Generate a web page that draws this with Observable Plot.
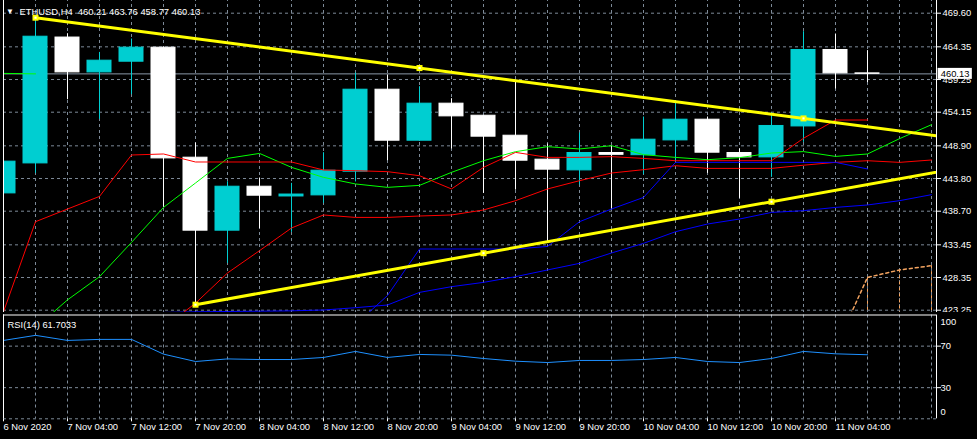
<!DOCTYPE html>
<html><head><meta charset="utf-8">
<script src="https://cdn.jsdelivr.net/npm/d3@7"></script>
<script src="https://cdn.jsdelivr.net/npm/@observablehq/plot@0.6"></script>
<style>
html,body{margin:0;padding:0;background:#000;}
#wrap{position:relative;width:977px;height:439px;background:#000;overflow:hidden;}
#main{position:absolute;left:0;top:-2px;}
#rsi{position:absolute;left:0;top:312px;}
svg{display:block;}
</style></head>
<body><div id="wrap"><div id="main"></div><div id="rsi"></div></div>
<script>
// ---- data (bar index 0 = 6 Nov 2020 20:00, H4 bars) ----
const symbolTitle = "ETHUSD,H4  460.21 463.76 458.77 460.13";
const rsiTitle = "RSI(14) 61.7033";
const candleOpen  = [441.48,446.16,465.80,460.36,462.03,464.22,447.05,435.66,442.52,441.00,441.17,444.87,457.66,449.70,455.48,453.60,450.48,446.74,445.07,447.78,447.44,449.75,452.98,447.78,447.10,451.93,463.86,460.21];
const candleHigh  = [449.70,468.90,466.40,463.48,465.57,464.30,449.34,443.30,443.88,443.04,447.83,460.27,459.96,458.13,456.26,453.60,458.91,449.19,450.90,448.88,453.40,455.95,453.40,448.41,454.03,466.71,466.35,463.76];
const candleLow   = [437.42,444.60,456.10,453.03,456.88,439.30,424.11,430.55,435.97,435.40,439.92,443.26,446.58,449.60,448.41,441.48,442.00,433.83,442.79,439.04,444.40,446.43,444.60,440.70,443.98,449.44,457.77,458.77];
const candleClose = [446.43,465.93,460.36,462.19,464.22,446.94,435.66,442.52,441.12,441.30,445.02,457.66,449.70,455.48,453.50,450.33,446.58,445.18,447.78,447.50,449.86,452.98,447.83,447.10,452.00,463.86,460.21,460.13];
// Ichimoku
const tenkan = [423.0,437.06,439.04,441.01,447.47,447.63,446.38,446.38,446.38,446.38,445.13,445.02,444.87,444.24,442.17,445.54,447.88,447.10,447.10,447.21,446.94,446.58,446.58,446.58,446.58,450.08,452.93,452.93];
const kijun = [null,null,null,null,null,null,null,null,null,null,null,421.0,425.54,432.8,432.8,432.8,432.8,433.2,437.06,439.04,440.85,446.32,446.32,446.32,446.32,446.32,446.32,445.29];
const chikou = [460.21,460.13];
const spanABars = [26,27,28,29];
const spanA = [417.4,428.37,429.53,430.2];
const spanB = [415.0,415.0,415.0,415.0];
// Alligator (bars 0..29, shifted forward)
const jaw = [null,null,null,null,422.5,422.9,423.0,423.05,423.1,423.15,423.28,423.64,424.06,426.03,426.92,427.59,428.48,429.53,430.56,432.18,433.68,435.5,436.7,437.48,438.51,438.78,439.29,439.67,440.34,441.28];
const teeth = [null,null,null,null,null,420.5,424.34,429.06,432.54,436.08,438.11,437.73,437.73,437.95,438.11,438.89,440.34,442.17,443.46,444.66,445.18,445.8,445.38,445.38,445.38,445.88,446.32,446.58,446.32,446.69];
const lips = [null,420.5,424.86,428.48,433.83,439.29,443.1,446.94,447.72,445.54,443.98,442.95,442.42,442.73,444.76,446.58,447.99,448.77,448.41,448.92,447.52,447.1,446.74,447.05,447.78,448.0,447.25,447.63,450.02,452.2];
// trend lines (anchor bar, price)
const upperTrendBars = [1,25];
const upperTrendPrices = [468.90,453.18];
const lowerTrendBars = [6,24];
const lowerTrendPrices = [424.11,440.18];
// RSI
const rsi = [75.5,80.4,75.5,76.5,76.5,62.3,55.2,57.7,57.1,57.1,59.1,64.9,59.1,62.0,61.3,58.1,55.5,54.2,56.2,56.2,57.1,59.1,55.2,54.2,58.1,64.9,62.6,61.7];
// axes
const priceTicks = [469.60,464.35,459.25,454.15,448.90,443.80,438.70,433.45,428.35,423.25];
const rsiLevels = [70,30];
const xTickBars = [0,2,4,6,8,10,12,14,16,18,20,22,24,26];
const xTickLabels = ["6 Nov 2020","7 Nov 04:00","7 Nov 12:00","7 Nov 20:00","8 Nov 04:00","8 Nov 12:00","8 Nov 20:00","9 Nov 04:00","9 Nov 12:00","9 Nov 20:00","10 Nov 04:00","10 Nov 12:00","10 Nov 20:00","11 Nov 04:00"];

// ---- build ----
const BULL = "#00CED1", BEAR = "#FFFFFF", GRID = "#7d8a98";
const FONT = "'Liberation Sans', Arial, sans-serif";
const X_MAX = 29.15625;
const xScale = {type: "linear", domain: [0, X_MAX], range: [3, 936]};
const candles = candleOpen.map((o, i) => ({i, o, h: candleHigh[i], l: candleLow[i], c: candleClose[i], col: candleClose[i] >= o ? BULL : BEAR}));
const idx30 = d3.range(30);
const gridBars = d3.range(30);
function ray(bars, prices) {
  const slope = (prices[1] - prices[0]) / (bars[1] - bars[0]);
  const end = X_MAX + 1;
  return [{x: bars[0], y: prices[0]}, {x: end, y: prices[0] + slope * (end - bars[0])}];
}
function anchors(bars, prices) {
  const mid = {x: (bars[0] + bars[1]) / 2, y: (prices[0] + prices[1]) / 2};
  return [{x: bars[0], y: prices[0]}, mid, {x: bars[1], y: prices[1]}];
}
const trendAnchors = [...anchors(upperTrendBars, upperTrendPrices), ...anchors(lowerTrendBars, lowerTrendPrices)];
const lastClose = candleClose[candleClose.length - 1];
const dash = {strokeOpacity: 1, strokeDasharray: "3,3", stroke: GRID};

const main = Plot.plot({
  width: 977, height: 316,
  marginLeft: 3, marginRight: 41, marginTop: 0, marginBottom: 2,
  style: {background: "#000", color: "#fff", fontFamily: FONT, fontSize: "9.4px"},
  x: {...xScale, axis: null},
  y: {type: "linear", domain: [423.25, 469.6], range: [311.7, 14.7]},
  marks: [
    Plot.gridX(gridBars, dash),
    Plot.gridY(priceTicks, dash),
    Plot.ruleY([lastClose], {stroke: "#8a98a8", strokeWidth: 1}),
    // candles
    Plot.ruleX(candles, {x: "i", y1: "l", y2: "h", stroke: "col", clip: true}),
    Plot.rect(candles, {x1: d => d.i - 0.375, x2: d => d.i + 0.375, y1: "o", y2: "c", fill: "col", stroke: "col", strokeWidth: 1, clip: true}),
    // Alligator
    Plot.line(idx30, {x: i => i, y: i => jaw[i], stroke: "#0000FF", strokeWidth: 1, clip: true}),
    Plot.line(idx30, {x: i => i, y: i => teeth[i], stroke: "#FF0000", strokeWidth: 1, clip: true}),
    Plot.line(idx30, {x: i => i, y: i => lips[i], stroke: "#00FF00", strokeWidth: 1, clip: true}),
    // Ichimoku
    Plot.ruleX(spanABars, {x: d => d, y1: (d, k) => spanA[k], y2: (d, k) => spanB[k], stroke: "#F4A460", strokeDasharray: "3,3", clip: true}),
    Plot.line(spanABars, {x: d => d, y: (d, k) => spanA[k], stroke: "#F4A460", strokeDasharray: "3,3", clip: true}),
    Plot.line(d3.range(28), {x: i => i, y: i => kijun[i], stroke: "#0000FF", strokeWidth: 1, clip: true}),
    Plot.line(d3.range(28), {x: i => i, y: i => tenkan[i], stroke: "#FF0000", strokeWidth: 1, clip: true}),
    Plot.line(chikou, {x: (d, k) => k, y: d => d, stroke: "#00FF00", strokeWidth: 1, clip: true}),
    // trend lines
    Plot.line(ray(upperTrendBars, upperTrendPrices), {x: "x", y: "y", stroke: "#FFFF00", strokeWidth: 3, clip: true}),
    Plot.line(ray(lowerTrendBars, lowerTrendPrices), {x: "x", y: "y", stroke: "#FFFF00", strokeWidth: 3, clip: true}),
    Plot.dot(trendAnchors, {x: "x", y: "y", symbol: "square", r: 3.4, fill: "#FFFF00", clip: true}),
    Plot.dot(trendAnchors, {x: "x", y: "y", symbol: "square", r: 1.2, fill: "#FFFFFF", clip: true}),
    Plot.frame({stroke: "#fff"}),
    Plot.axisY(priceTicks, {anchor: "right", tickSize: 4, tickPadding: 2, tickFormat: d => d.toFixed(2), stroke: "#fff", fill: "#fff", textAnchor: "start"}),
    // current price label
    Plot.rect([lastClose], {x1: X_MAX + 0.05, x2: X_MAX + 1.12, y1: d => d, y2: d => d, insetTop: -5.5, insetBottom: -5.5, fill: "#fff"}),
    Plot.text([lastClose], {x: X_MAX + 0.1, y: d => d, text: d => d.toFixed(2), fill: "#000", textAnchor: "start", dx: 1}),
    // title
    Plot.text(["\u25BC"], {frameAnchor: "top-left", dx: 6.5, dy: 13, fill: "#fff", fontSize: 8, textAnchor: "middle", lineAnchor: "middle"}),
    Plot.text([symbolTitle], {frameAnchor: "top-left", dx: 16, dy: 13.5, text: d => d, fill: "#fff", textAnchor: "start", lineAnchor: "middle"})
  ]
});
document.getElementById("main").appendChild(main);

const labelMap = new Map(xTickBars.map((b, k) => [b, xTickLabels[k]]));
const rsiPlot = Plot.plot({
  width: 977, height: 127,
  marginLeft: 3, marginRight: 41, marginTop: 2.5, marginBottom: 20.7,
  style: {background: "#000", color: "#fff", fontFamily: FONT, fontSize: "9.4px"},
  x: {...xScale},
  y: {type: "linear", domain: [0, 100]},
  marks: [
    Plot.gridX(gridBars, dash),
    Plot.gridY([70, 30, 0], dash),
    Plot.line(rsi, {x: (d, k) => k, y: d => d, stroke: "#1E90FF", strokeWidth: 1}),
    Plot.ruleX([0, X_MAX], {stroke: "#fff"}),
    Plot.ruleY([100], {stroke: "#fff"}),
    Plot.axisX(xTickBars, {anchor: "bottom", tickSize: 3, tickPadding: 2, tickFormat: d => labelMap.get(d), textAnchor: "start", stroke: "#fff", fill: "#fff"}),
    Plot.axisY(rsiLevels, {anchor: "right", tickSize: 4, tickPadding: 0, textAnchor: "start", stroke: "#fff", fill: "#fff"}),
    Plot.text([100], {y: d => d, frameAnchor: "right", dx: 4, dy: 7, text: d => String(d), textAnchor: "start", fill: "#fff"}),
    Plot.text([0], {y: d => d, frameAnchor: "right", dx: 4, dy: -7, text: d => String(d), textAnchor: "start", fill: "#fff"}),
    Plot.text([rsiTitle], {frameAnchor: "top-left", dx: 4, dy: 9.5, text: d => d, fill: "#fff", textAnchor: "start", lineAnchor: "middle"})
  ]
});
document.getElementById("rsi").appendChild(rsiPlot);
</script>
</body></html>
